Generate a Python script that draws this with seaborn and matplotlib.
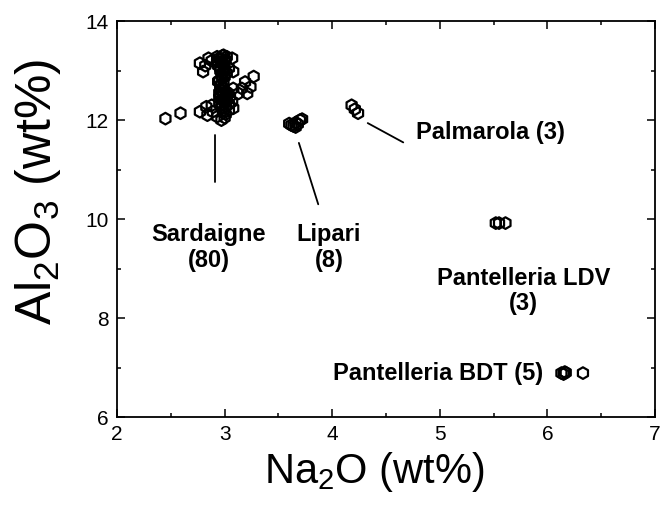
"""Al2O3 vs Na2O scatter for obsidian sources (hexagon markers)."""
import matplotlib
matplotlib.use("Agg")
import matplotlib.pyplot as plt
from matplotlib.ticker import MultipleLocator
import pandas as pd
import seaborn as sns

# Sardaigne (80)
sard_na = [2.45, 2.59, 2.77, 2.83, 2.88, 2.77, 2.80, 2.85, 2.82, 2.88,
           2.93, 2.99, 3.07, 3.08, 3.04, 2.96, 2.98, 3.00, 3.02, 2.94,
           2.96, 2.97, 2.95, 2.98, 2.96, 2.97, 2.99, 3.00, 3.02, 2.93,
           3.27, 3.19, 3.24, 3.16, 3.21, 3.13, 3.08,
           2.98, 3.02, 3.07, 2.97, 3.04, 3.08, 3.00, 3.03, 2.95, 3.05,
           2.93, 2.97, 2.89, 2.84, 3.00, 2.99, 3.01, 2.95,
           2.95, 2.97, 2.99, 3.01, 2.96, 2.98, 3.00, 2.94, 2.97, 2.99,
           3.01, 3.03, 2.96, 2.98, 3.00, 3.02, 2.97, 2.99, 3.01, 2.95,
           2.98, 3.00, 3.04, 2.96, 3.02]
sard_al = [12.03, 12.14, 12.17, 12.27, 12.30, 13.15, 12.98, 13.25, 13.10, 13.20,
           13.28, 13.31, 13.25, 12.98, 13.05, 13.22, 13.15, 13.20, 13.28, 13.10,
           13.00, 12.90, 12.80, 12.85, 12.70, 12.60, 12.75, 13.05, 12.95, 13.18,
           12.88, 12.77, 12.67, 12.64, 12.54, 12.54, 12.64,
           12.50, 12.44, 12.37, 12.30, 12.20, 12.24, 12.40, 12.55, 12.45, 12.48,
           12.07, 12.00, 12.17, 12.10, 12.05, 12.15, 12.28, 12.35,
           13.25, 13.18, 13.12, 13.22, 13.05, 12.95, 12.88, 12.78, 12.72, 12.65,
           12.58, 12.52, 12.48, 12.42, 12.35, 12.40, 12.25, 12.20, 12.12, 12.55,
           13.30, 13.02, 12.32, 12.62, 12.45]

# Lipari (8)
lip_na = [3.62, 3.66, 3.70, 3.64, 3.68, 3.60, 3.72, 3.66]
lip_al = [11.90, 11.95, 12.00, 11.88, 11.92, 11.93, 12.02, 11.86]

# Palmarola (3)
pal_na = [4.18, 4.21, 4.24]
pal_al = [12.30, 12.22, 12.14]

# Pantelleria LDV (3)
ldv_na = [5.52, 5.55, 5.61]
ldv_al = [9.92, 9.92, 9.92]

# Pantelleria BDT (5)
bdt_na = [6.13, 6.15, 6.17, 6.16, 6.33]
bdt_al = [6.89, 6.87, 6.90, 6.91, 6.89]

df = pd.DataFrame({
    "Na2O": sard_na + lip_na + pal_na + ldv_na + bdt_na,
    "Al2O3": sard_al + lip_al + pal_al + ldv_al + bdt_al,
})

sns.set_style("ticks")
plt.rcParams["font.family"] = ["Liberation Sans", "DejaVu Sans"]
plt.rcParams["mathtext.fontset"] = "custom"
plt.rcParams["mathtext.rm"] = "Liberation Sans"
plt.rcParams["mathtext.it"] = "Liberation Sans:italic"
plt.rcParams["text.color"] = "black"
plt.rcParams["axes.labelcolor"] = "black"
plt.rcParams["xtick.color"] = "black"
plt.rcParams["ytick.color"] = "black"

fig = plt.figure(figsize=(6.63, 5.15), dpi=100)
ax = fig.add_axes([0.1765, 0.190, 0.8115, 0.769])

sns.scatterplot(data=df, x="Na2O", y="Al2O3", marker="h", s=70,
                facecolor="none", edgecolor="black", linewidth=1.6, ax=ax)

ax.set_xlim(2, 7)
ax.set_ylim(6, 14)
ax.xaxis.set_major_locator(MultipleLocator(1))
ax.xaxis.set_minor_locator(MultipleLocator(0.5))
ax.yaxis.set_major_locator(MultipleLocator(2))
ax.yaxis.set_minor_locator(MultipleLocator(1))
ax.tick_params(which="both", direction="in", top=True, right=True,
               color="black", width=1.1)
ax.tick_params(which="major", length=6, labelsize=15, pad=6)
ax.tick_params(which="minor", length=3)
for sp in ax.spines.values():
    sp.set_color("black")
    sp.set_linewidth(1.3)

ax.set_xlabel("Na$_2$O (wt%)", fontsize=30)
ax.set_ylabel("Al$_2$O$_3$ (wt%)", fontsize=36)
ax.xaxis.set_label_coords(0.478, -0.082)
ax.yaxis.set_label_coords(-0.10, 0.57)

# leader lines and labels
kw = dict(fontsize=17, fontweight="bold", color="black", linespacing=1.15)
ax.plot([2.91, 2.91], [11.70, 10.75], color="black", lw=1.3)
ax.text(2.85, 9.42, "Sardaigne\n(80)", ha="center", va="center", **kw)
ax.plot([3.69, 3.87], [11.54, 10.30], color="black", lw=1.3)
ax.text(3.97, 9.42, "Lipari\n(8)", ha="center", va="center", **kw)
ax.plot([4.33, 4.66], [11.94, 11.55], color="black", lw=1.3)
ax.text(4.78, 11.76, "Palmarola (3)", ha="left", va="center", **kw)
ax.text(5.78, 8.55, "Pantelleria LDV\n(3)", ha="center", va="center", **kw)
ax.text(5.96, 6.89, "Pantelleria BDT (5)", ha="right", va="center", **kw)

fig.savefig("out.png", dpi=100)
